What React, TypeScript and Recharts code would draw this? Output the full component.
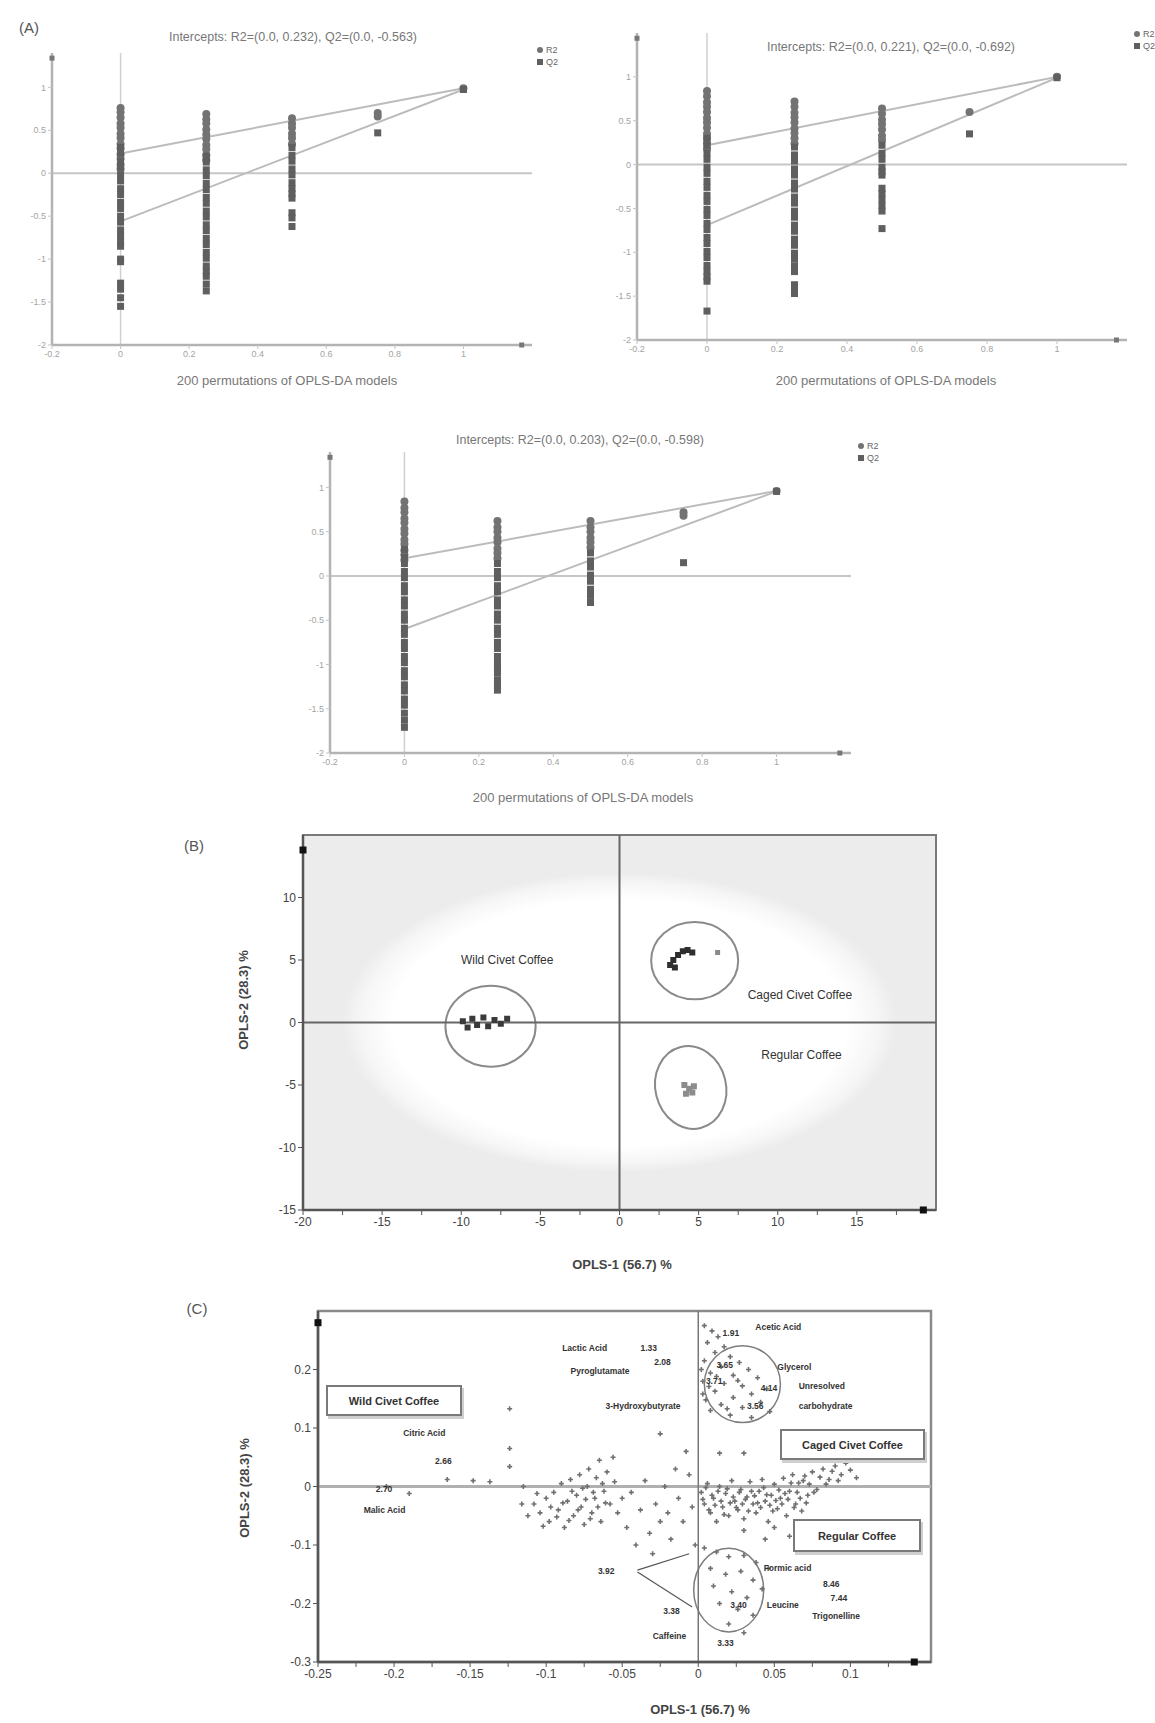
import React from "react";
import {
  ScatterChart,
  Scatter,
  XAxis,
  YAxis,
  ReferenceLine,
  ReferenceArea,
  ReferenceDot,
} from "recharts";

// ---------- (A) permutation tests ----------
// x positions of the permutation columns (correlation permuted vs original Y)
const permX = [0, 0.25, 0.5, 0.75, 1];
const permTicksX = [-0.2, 0, 0.2, 0.4, 0.6, 0.8, 1];
const permTicksY = [-2, -1.5, -1, -0.5, 0, 0.5, 1];

// one inner array per permX column
const a1R2 = [
  [0.76, 0.71, 0.65, 0.58, 0.53, 0.46, 0.41, 0.34, 0.29, 0.22, 0.17, 0.1, 0.05],
  [0.69, 0.63, 0.58, 0.51, 0.45, 0.4, 0.33, 0.28, 0.21, 0.15],
  [0.64, 0.58, 0.53, 0.46, 0.41, 0.34],
  [0.7, 0.66],
  [0.99],
];
const a1Q2 = [
  [0.3, 0.23, 0.14, 0.07, -0.02, -0.09, -0.18, -0.25, -0.34, -0.41, -0.5, -0.57, -0.66, -0.73, -0.8, -0.85, -1.0, -1.03, -1.28, -1.35, -1.45, -1.55],
  [0.2, 0.13, 0.04, -0.03, -0.12, -0.19, -0.28, -0.35, -0.44, -0.51, -0.6, -0.67, -0.76, -0.83, -0.92, -0.99, -1.08, -1.14, -1.2, -1.29, -1.37],
  [0.3, 0.21, 0.14, 0.05, -0.02, -0.11, -0.18, -0.24, -0.29, -0.46, -0.52, -0.62],
  [0.47],
  [0.975],
];
const a1R2Line = [0.23, 0.99];
const a1Q2Line = [-0.56, 0.975];

const a2R2 = [
  [0.84, 0.78, 0.71, 0.66, 0.6, 0.53, 0.48, 0.42, 0.35, 0.3, 0.24, 0.18],
  [0.72, 0.66, 0.59, 0.54, 0.48, 0.41, 0.36, 0.3, 0.24],
  [0.64, 0.58, 0.51, 0.46, 0.4, 0.33, 0.28],
  [0.6],
  [1.0],
];
const a2Q2 = [
  [0.3, 0.22, 0.13, 0.06, -0.03, -0.1, -0.19, -0.26, -0.35, -0.42, -0.51, -0.58, -0.67, -0.74, -0.83, -0.9, -0.99, -1.06, -1.15, -1.22, -1.28, -1.33, -1.67],
  [0.2, 0.11, 0.04, -0.05, -0.12, -0.21, -0.28, -0.37, -0.44, -0.53, -0.6, -0.69, -0.76, -0.85, -0.92, -1.01, -1.08, -1.16, -1.22, -1.37, -1.42, -1.47],
  [0.22, 0.13, 0.06, -0.03, -0.08, -0.12, -0.27, -0.33, -0.4, -0.47, -0.53, -0.73],
  [0.35],
  [0.99],
];
const a2R2Line = [0.22, 1.0];
const a2Q2Line = [-0.69, 0.99];

const a3R2 = [
  [0.84, 0.77, 0.72, 0.65, 0.6, 0.53, 0.48, 0.41, 0.36, 0.29, 0.24, 0.18],
  [0.62, 0.55, 0.5, 0.43, 0.38, 0.31, 0.26, 0.2],
  [0.62, 0.55, 0.5, 0.43, 0.38, 0.32],
  [0.72, 0.68],
  [0.96],
];
const a3Q2 = [
  [0.3, 0.21, 0.14, 0.05, -0.02, -0.11, -0.18, -0.27, -0.34, -0.43, -0.5, -0.59, -0.66, -0.75, -0.82, -0.91, -0.98, -1.07, -1.14, -1.23, -1.3, -1.39, -1.46, -1.55, -1.63, -1.71],
  [0.14, 0.05, -0.02, -0.11, -0.18, -0.27, -0.34, -0.43, -0.5, -0.59, -0.66, -0.75, -0.82, -0.91, -0.98, -1.04, -1.1, -1.18, -1.24, -1.29],
  [0.26, 0.17, 0.1, 0.01, -0.06, -0.15, -0.22, -0.3],
  [0.15],
  [0.955],
];
const a3R2Line = [0.2, 0.96];
const a3Q2Line = [-0.6, 0.955];

// ---------- (B) OPLS-DA scores ----------
const bTicksX = [-20, -17.5, -15, -12.5, -10, -7.5, -5, -2.5, 0, 2.5, 5, 7.5, 10, 12.5, 15, 17.5];
const bTicksY = [-15, -10, -5, 0, 5, 10];
const bWild = [
  [-9.9, 0.1], [-9.6, -0.4], [-9.3, 0.3], [-9.0, -0.2], [-8.6, 0.4],
  [-8.3, -0.3], [-7.9, 0.2], [-7.5, -0.1], [-7.1, 0.3],
];
const bCaged = [
  [3.2, 4.6], [3.4, 5.0], [3.7, 5.4], [4.0, 5.7], [4.3, 5.8], [4.6, 5.6], [3.5, 4.4],
];
const bCagedOut = [[6.2, 5.6]];
const bRegular = [[4.1, -5.0], [4.4, -5.3], [4.6, -5.6], [4.2, -5.7], [4.7, -5.1]];
// bounding boxes of the group ellipses [x1, x2, y1, y2]
const bGroupBounds = [
  [-11.0, -5.3, -3.6, 3.0],
  [2.0, 7.5, 1.8, 8.1],
  [2.1, 6.9, -8.6, -1.8],
];
const bT2Bounds = [-17.5, 17.5, -12, 12];
const bLabels = [
  { x: -7.1, y: 5.0, label: "Wild Civet Coffee" },
  { x: 11.4, y: 2.2, label: "Caged Civet Coffee" },
  { x: 11.5, y: -2.6, label: "Regular Coffee" },
];

// ---------- (C) loadings ----------
const cTicksX = [-0.25, -0.225, -0.2, -0.175, -0.15, -0.125, -0.1, -0.075, -0.05, -0.025, 0, 0.025, 0.05, 0.075, 0.1, 0.125];
const cTicksY = [-0.3, -0.2, -0.1, 0, 0.1, 0.2];
const cTopCluster = [
  [0.004, 0.275], [0.009, 0.266], [0.013, 0.256], [0.006, 0.246], [0.017, 0.239], [0.011, 0.229],
  [0.021, 0.222], [0.004, 0.215], [0.027, 0.212], [0.015, 0.205], [0.033, 0.2], [0.008, 0.194],
  [0.023, 0.19], [0.039, 0.186], [0.003, 0.18], [0.017, 0.176], [0.029, 0.172], [0.045, 0.167],
  [0.011, 0.163], [0.035, 0.158], [0.023, 0.152], [0.005, 0.148], [0.041, 0.144], [0.015, 0.14],
  [0.029, 0.135], [0.008, 0.13], [0.047, 0.128], [0.021, 0.122], [0.035, 0.118],
  [0.002, 0.2], [0.007, 0.171], [0.003, 0.158], [0.012, 0.188], [0.026, 0.181], [0.019, 0.133],
  [0.014, 0.057], [0.03, 0.057], [-0.025, 0.09],
];
const cBand = [
  [-0.116, -0.03], [-0.112, -0.05], [-0.108, -0.03], [-0.106, -0.012], [-0.104, -0.045], [-0.102, -0.068],
  [-0.1, -0.02], [-0.098, -0.06], [-0.097, -0.035], [-0.095, -0.01], [-0.093, -0.052], [-0.092, -0.04],
  [-0.09, 0.005], [-0.089, -0.028], [-0.088, -0.07], [-0.086, -0.025], [-0.085, -0.058], [-0.084, 0.012],
  [-0.083, -0.008], [-0.082, -0.05], [-0.08, -0.015], [-0.079, -0.04], [-0.078, 0.02], [-0.077, -0.035],
  [-0.076, -0.003], [-0.075, -0.065], [-0.074, -0.022], [-0.073, 0.0], [-0.072, 0.03], [-0.071, -0.055],
  [-0.07, -0.045], [-0.069, -0.01], [-0.068, -0.02], [-0.067, 0.015], [-0.066, -0.035], [-0.065, 0.045],
  [-0.064, -0.06], [-0.063, 0.005], [-0.062, -0.008], [-0.061, -0.028], [-0.06, 0.025], [-0.058, -0.03],
  [-0.056, 0.05], [-0.055, 0.008], [-0.053, -0.045],
  [-0.05, -0.02], [-0.047, -0.07], [-0.044, -0.01], [-0.041, -0.1], [-0.038, -0.04], [-0.035, 0.01],
  [-0.032, -0.08], [-0.03, -0.115], [-0.028, -0.03], [-0.025, -0.06], [-0.022, 0.0], [-0.02, -0.045],
  [-0.018, -0.09], [-0.015, 0.03], [-0.013, -0.02], [-0.01, -0.06], [-0.008, 0.06], [-0.006, 0.02],
  [-0.004, -0.035], [-0.002, -0.1],
  [0.002, -0.01], [0.003, -0.022], [0.004, -0.03], [0.005, -0.002], [0.006, 0.005], [0.007, -0.04],
  [0.008, -0.045], [0.009, -0.015], [0.01, -0.02], [0.011, -0.032], [0.012, -0.06], [0.013, -0.008],
  [0.014, 0.0], [0.015, -0.025], [0.016, -0.035], [0.017, -0.048], [0.018, -0.012], [0.019, -0.004],
  [0.02, -0.05], [0.021, -0.028], [0.022, 0.01], [0.023, -0.018], [0.024, -0.025], [0.025, -0.036],
  [0.026, -0.04], [0.027, -0.01], [0.028, -0.005], [0.029, -0.03], [0.03, -0.055], [0.031, -0.022],
  [0.032, -0.018], [0.033, -0.042], [0.034, 0.008], [0.035, -0.008], [0.036, -0.03], [0.037, -0.016],
  [0.038, -0.045], [0.039, -0.028], [0.04, -0.008], [0.041, -0.036], [0.042, 0.012], [0.043, -0.002],
  [0.044, -0.025], [0.045, -0.014], [0.046, -0.06], [0.047, -0.032], [0.048, -0.015], [0.049, -0.042],
  [0.05, 0.004], [0.051, -0.024], [0.052, -0.038], [0.053, -0.006], [0.054, -0.02], [0.055, -0.03],
  [0.056, 0.014], [0.057, -0.012], [0.058, -0.05], [0.059, -0.022], [0.06, -0.008], [0.061, 0.006],
  [0.062, 0.02], [0.063, -0.036], [0.064, -0.03], [0.065, -0.01], [0.066, 0.006], [0.067, -0.02],
  [0.068, -0.042], [0.069, 0.01], [0.07, 0.018], [0.071, -0.028], [0.072, -0.015], [0.073, 0.004],
  [0.075, 0.025], [0.076, -0.01], [0.078, -0.005], [0.08, 0.016], [0.082, 0.03], [0.084, 0.004],
  [0.086, 0.012], [0.088, 0.026], [0.09, 0.035], [0.092, 0.01], [0.094, 0.02], [0.097, 0.04],
  [0.1, 0.028], [0.104, 0.015], [0.03, -0.075], [0.05, -0.07], [0.044, -0.09], [0.06, -0.085],
];
const cBottomCluster = [
  [0.004, -0.105], [0.012, -0.112], [0.02, -0.12], [0.03, -0.118], [0.038, -0.13], [0.008, -0.14],
  [0.018, -0.15], [0.028, -0.145], [0.036, -0.16], [0.01, -0.17], [0.022, -0.18], [0.032, -0.19],
  [0.014, -0.2], [0.026, -0.21], [0.036, -0.22], [0.02, -0.235], [0.03, -0.25], [0.042, -0.175],
  [0.046, -0.14],
];
const cLeftOutliers = [
  [-0.19, -0.012], [-0.165, 0.012], [-0.148, 0.01], [-0.137, 0.008], [-0.124, 0.133],
  [-0.124, 0.065], [-0.124, 0.034], [-0.115, 0.0], [-0.205, 0.0],
];
const cGroupBounds = [
  [0.004, 0.054, 0.108, 0.242],
  [-0.003, 0.043, -0.25, -0.104],
];
const cLabels = [
  { x: 0.0375, y: 0.273, label: "Acetic Acid" },
  { x: 0.016, y: 0.262, label: "1.91" },
  { x: -0.0895, y: 0.236, label: "Lactic Acid" },
  { x: -0.038, y: 0.236, label: "1.33" },
  { x: -0.029, y: 0.212, label: "2.08" },
  { x: -0.084, y: 0.198, label: "Pyroglutamate" },
  { x: -0.061, y: 0.138, label: "3-Hydroxybutyrate" },
  { x: 0.052, y: 0.205, label: "Glycerol" },
  { x: 0.066, y: 0.171, label: "Unresolved" },
  { x: 0.066, y: 0.138, label: "carbohydrate" },
  { x: 0.012, y: 0.207, label: "3.65" },
  { x: 0.005, y: 0.181, label: "3.71" },
  { x: 0.041, y: 0.168, label: "4.14" },
  { x: 0.032, y: 0.138, label: "3.56" },
  { x: -0.194, y: 0.091, label: "Citric Acid" },
  { x: -0.173, y: 0.043, label: "2.66" },
  { x: -0.212, y: -0.004, label: "2.70" },
  { x: -0.22, y: -0.041, label: "Malic Acid" },
  { x: -0.066, y: -0.144, label: "3.92" },
  { x: 0.043, y: -0.14, label: "Formic acid" },
  { x: 0.082, y: -0.166, label: "8.46" },
  { x: 0.087, y: -0.191, label: "7.44" },
  { x: 0.021, y: -0.203, label: "3.40" },
  { x: 0.045, y: -0.203, label: "Leucine" },
  { x: 0.075, y: -0.222, label: "Trigonelline" },
  { x: -0.023, y: -0.212, label: "3.38" },
  { x: -0.03, y: -0.256, label: "Caffeine" },
  { x: 0.0125, y: -0.268, label: "3.33" },
];
// leader lines from "3.92" to its peaks
const cLeaders = [
  [[-0.04, -0.143], [-0.006, -0.115]],
  [[-0.04, -0.146], [-0.004, -0.206]],
];

const FONT = "'Liberation Sans', Arial, sans-serif";

const toPoints = (cols: number[][]) =>
  cols.flatMap((ys, i) => ys.map((y) => ({ x: permX[i], y })));
const pairs = (arr: number[][]) => arr.map(([x, y]) => ({ x, y }));

const r2Shape = (p: any) => <circle cx={p.cx} cy={p.cy} r={4} fill="#737373" />;
const q2Shape = (p: any) => (
  <rect x={p.cx - 3.5} y={p.cy - 3.5} width={7} height={7} fill="#5f5f5f" />
);
const sq = (size: number, color: string) => (p: any) => (
  <rect x={p.cx - size / 2} y={p.cy - size / 2} width={size} height={size} fill={color} />
);
const cross = (p: any) => (
  <path
    d={`M${p.cx - 2.5},${p.cy} h5 M${p.cx},${p.cy - 2.5} v5`}
    stroke="#707070"
    strokeWidth={1.6}
  />
);
const textShape = (size: number, anchor: string, color: string, weight = 400) => (p: any) => (
  <text
    x={p.cx}
    y={p.cy}
    fontSize={size}
    textAnchor={anchor}
    dominantBaseline="central"
    fill={color}
    fontWeight={weight}
    fontFamily={FONT}
  >
    {p.payload.label}
  </text>
);
const ellipseShape = (tilt: number, color: string, sw: number) => (p: any) => {
  const w = Math.abs(p.width);
  const h = Math.abs(p.height);
  const cx = p.x + p.width / 2;
  const cy = p.y + p.height / 2;
  const k = tilt ? 0.93 : 1;
  return (
    <ellipse
      cx={cx}
      cy={cy}
      rx={(w / 2) * k}
      ry={(h / 2) * 0.98}
      fill="none"
      stroke={color}
      strokeWidth={sw}
      transform={`rotate(${tilt} ${cx} ${cy})`}
    />
  );
};
const t2Shape = (p: any) => {
  const cx = p.x + p.width / 2;
  const cy = p.y + p.height / 2;
  return (
    <g>
      <defs>
        <radialGradient id="t2fade" cx="50%" cy="50%" r="50%">
          <stop offset="0.82" stopColor="#ffffff" />
          <stop offset="0.93" stopColor="#f6f6f6" />
          <stop offset="1" stopColor="#ececec" />
        </radialGradient>
      </defs>
      <ellipse cx={cx} cy={cy} rx={Math.abs(p.width) / 2} ry={Math.abs(p.height) / 2} fill="url(#t2fade)" />
    </g>
  );
};

function Txt({ x, y, size, children, color = "#555", weight = 400, rotate = 0 }: any) {
  return (
    <div
      style={{
        position: "absolute",
        left: x,
        top: y,
        transform: `translate(-50%, -50%) rotate(${rotate}deg)`,
        whiteSpace: "nowrap",
        fontSize: size,
        color,
        fontWeight: weight,
        fontFamily: FONT,
        lineHeight: 1,
      }}
    >
      {children}
    </div>
  );
}

function PermLegend({ x, y }: { x: number; y: number }) {
  const item = (top: number, round: boolean, text: string) => (
    <div style={{ position: "absolute", left: x, top: top - 5, display: "flex", alignItems: "center", gap: 3 }}>
      <span
        style={{
          width: 6,
          height: 6,
          background: round ? "#737373" : "#5f5f5f",
          borderRadius: round ? 3 : 0,
          display: "inline-block",
        }}
      />
      <span style={{ fontSize: 9, color: "#666", fontFamily: FONT, lineHeight: "10px" }}>{text}</span>
    </div>
  );
  return (
    <>
      {item(y, true, "R2")}
      {item(y + 12, false, "Q2")}
    </>
  );
}

function PermPanel(props: any) {
  const { left, top, width, height, axisW, mTop, mRight, axisH, yMax, r2, q2, r2Line, q2Line } = props;
  const axisStyle = { stroke: "#b3b3b3", strokeWidth: 2.5 };
  return (
    <div style={{ position: "absolute", left, top }}>
      <ScatterChart width={width} height={height} margin={{ top: mTop, right: mRight, left: 0, bottom: 0 }}>
        <XAxis
          type="number"
          dataKey="x"
          domain={[-0.2, 1.2]}
          ticks={permTicksX}
          interval={0}
          height={axisH}
          axisLine={axisStyle}
          tickLine={{ stroke: "#c4c4c4" }}
          tickSize={4}
          tick={{ fill: "#a3a3a3", fontSize: 9, fontFamily: FONT }}
        />
        <YAxis
          type="number"
          dataKey="y"
          domain={[-2, yMax]}
          ticks={permTicksY}
          interval={0}
          width={axisW}
          axisLine={axisStyle}
          tickLine={{ stroke: "#c4c4c4" }}
          tickSize={4}
          tick={{ fill: "#a3a3a3", fontSize: 9, fontFamily: FONT }}
        />
        <ReferenceLine x={0} stroke="#d0d0d0" strokeWidth={1.5} />
        <ReferenceLine y={0} stroke="#c6c6c6" strokeWidth={2} />
        <ReferenceLine segment={[{ x: 0, y: r2Line[0] }, { x: 1, y: r2Line[1] }]} stroke="#bcbcbc" strokeWidth={2} />
        <ReferenceLine segment={[{ x: 0, y: q2Line[0] }, { x: 1, y: q2Line[1] }]} stroke="#bcbcbc" strokeWidth={2} />
        <ReferenceDot x={-0.2} y={yMax - 0.06} r={3} shape={sq(5, "#777")} />
        <ReferenceDot x={1.17} y={-2} r={3} shape={sq(5, "#777")} />
        <Scatter data={toPoints(r2)} shape={r2Shape} isAnimationActive={false} />
        <Scatter data={toPoints(q2)} shape={q2Shape} isAnimationActive={false} />
      </ScatterChart>
    </div>
  );
}

const fmt05 = (v: number) => (Math.abs(v * 20 - Math.round(v * 20)) < 1e-6 ? String(v) : "");
const fmt5 = (v: number) => (v % 5 === 0 ? String(v) : "");

export default function App() {
  const darkAxis = { stroke: "#555", strokeWidth: 2.5 };
  const tickStyle = { fill: "#444", fontSize: 12, fontFamily: FONT };
  return (
    <div style={{ position: "absolute", left: 0, top: 0, width: 1155, height: 1723, background: "#fff", fontFamily: FONT }}>
      {/* ---------- (A) ---------- */}
      <Txt x={29} y={27} size={15} color="#555">(A)</Txt>

      <PermPanel left={0} top={0} width={560} height={400} axisW={52} mTop={53} mRight={28} axisH={55} yMax={1.4}
        r2={a1R2} q2={a1Q2} r2Line={a1R2Line} q2Line={a1Q2Line} />
      <Txt x={293} y={37} size={12.5} color="#777">Intercepts: R2=(0.0, 0.232), Q2=(0.0, -0.563)</Txt>
      <Txt x={287} y={380} size={13} color="#777">200 permutations of OPLS-DA models</Txt>
      <PermLegend x={537} y={50} />

      <PermPanel left={580} top={0} width={575} height={400} axisW={57} mTop={33} mRight={28} axisH={60} yMax={1.5}
        r2={a2R2} q2={a2Q2} r2Line={a2R2Line} q2Line={a2Q2Line} />
      <Txt x={891} y={47} size={12.5} color="#777">Intercepts: R2=(0.0, 0.221), Q2=(0.0, -0.692)</Txt>
      <Txt x={886} y={380} size={13} color="#777">200 permutations of OPLS-DA models</Txt>
      <PermLegend x={1134} y={34} />

      <PermPanel left={270} top={420} width={620} height={390} axisW={60} mTop={32} mRight={39} axisH={57} yMax={1.4}
        r2={a3R2} q2={a3Q2} r2Line={a3R2Line} q2Line={a3Q2Line} />
      <Txt x={580} y={440} size={12.5} color="#777">Intercepts: R2=(0.0, 0.203), Q2=(0.0, -0.598)</Txt>
      <Txt x={583} y={797} size={13} color="#777">200 permutations of OPLS-DA models</Txt>
      <PermLegend x={858} y={446} />

      {/* ---------- (B) ---------- */}
      <Txt x={194} y={845} size={15} color="#555">(B)</Txt>
      <div style={{ position: "absolute", left: 200, top: 820 }}>
        <ScatterChart width={760} height={470} margin={{ top: 15, right: 24, left: 0, bottom: 0 }}>
          <XAxis type="number" dataKey="x" domain={[-20, 20]} ticks={bTicksX} interval={0} tickFormatter={fmt5}
            height={80} axisLine={darkAxis} tickLine={{ stroke: "#555" }} tickSize={5} tick={tickStyle} />
          <YAxis type="number" dataKey="y" domain={[-15, 15]} ticks={bTicksY} interval={0}
            width={103} axisLine={darkAxis} tickLine={{ stroke: "#555" }} tickSize={5} tick={tickStyle} />
          <ReferenceArea x1={-20} x2={20} y1={-15} y2={15} fill="#ececec" fillOpacity={1} stroke="#7a7a7a" strokeWidth={2} />
          <ReferenceArea x1={bT2Bounds[0]} x2={bT2Bounds[1]} y1={bT2Bounds[2]} y2={bT2Bounds[3]} shape={t2Shape} />
          <ReferenceLine x={0} stroke="#666" strokeWidth={2} />
          <ReferenceLine y={0} stroke="#666" strokeWidth={2} />
          {bGroupBounds.map((b, i) => (
            <ReferenceArea key={i} x1={b[0]} x2={b[1]} y1={b[2]} y2={b[3]}
              shape={ellipseShape(i === 2 ? -14 : 0, "#8a8a8a", 2)} />
          ))}
          <ReferenceDot x={-20} y={13.8} r={3} shape={sq(7, "#111")} />
          <ReferenceDot x={19.2} y={-15} r={3} shape={sq(7, "#111")} />
          <Scatter data={pairs(bWild)} shape={sq(6, "#3a3a3a")} isAnimationActive={false} />
          <Scatter data={pairs(bCaged)} shape={sq(6, "#2e2e2e")} isAnimationActive={false} />
          <Scatter data={pairs(bCagedOut)} shape={sq(5, "#8a8a8a")} isAnimationActive={false} />
          <Scatter data={pairs(bRegular)} shape={sq(6, "#8c8c8c")} isAnimationActive={false} />
          <Scatter data={bLabels} shape={textShape(12, "middle", "#333")} isAnimationActive={false} />
        </ScatterChart>
      </div>
      <Txt x={243} y={1000} size={13} color="#444" weight={700} rotate={-90}>OPLS-2 (28.3) %</Txt>
      <Txt x={622} y={1264} size={13} color="#444" weight={700}>OPLS-1 (56.7) %</Txt>

      {/* ---------- (C) ---------- */}
      <Txt x={197} y={1308} size={15} color="#555">(C)</Txt>
      <div style={{ position: "absolute", left: 200, top: 1290 }}>
        <ScatterChart width={760} height={433} margin={{ top: 21, right: 29, left: 0, bottom: 0 }}>
          <XAxis type="number" dataKey="x" domain={[-0.25, 0.153]} ticks={cTicksX} interval={0} tickFormatter={fmt05}
            height={61} axisLine={darkAxis} tickLine={{ stroke: "#555" }} tickSize={5} tick={tickStyle} />
          <YAxis type="number" dataKey="y" domain={[-0.3, 0.3]} ticks={cTicksY} interval={0}
            width={118} axisLine={darkAxis} tickLine={{ stroke: "#555" }} tickSize={5} tick={tickStyle} />
          <ReferenceArea x1={-0.25} x2={0.153} y1={-0.3} y2={0.3} fill="none" stroke="#8a8a8a" strokeWidth={2.5} />
          <ReferenceLine y={0} stroke="#b0b0b0" strokeWidth={3} />
          <ReferenceLine x={0} stroke="#777" strokeWidth={1.5} />
          {cGroupBounds.map((b, i) => (
            <ReferenceArea key={i} x1={b[0]} x2={b[1]} y1={b[2]} y2={b[3]} shape={ellipseShape(0, "#7d7d7d", 1.5)} />
          ))}
          {cLeaders.map((s, i) => (
            <ReferenceLine key={i} segment={[{ x: s[0][0], y: s[0][1] }, { x: s[1][0], y: s[1][1] }]} stroke="#555" strokeWidth={1.2} />
          ))}
          <ReferenceDot x={-0.25} y={0.28} r={3} shape={sq(7, "#111")} />
          <ReferenceDot x={0.142} y={-0.3} r={3} shape={sq(7, "#111")} />
          <Scatter data={pairs(cBand)} shape={cross} isAnimationActive={false} />
          <Scatter data={pairs(cTopCluster)} shape={cross} isAnimationActive={false} />
          <Scatter data={pairs(cBottomCluster)} shape={cross} isAnimationActive={false} />
          <Scatter data={pairs(cLeftOutliers)} shape={cross} isAnimationActive={false} />
          <Scatter data={cLabels} shape={textShape(8.5, "start", "#333", 700)} isAnimationActive={false} />
        </ScatterChart>
      </div>
      <Txt x={244} y={1488} size={13} color="#444" weight={700} rotate={-90}>OPLS-2 (28.3) %</Txt>
      <Txt x={700} y={1709} size={13} color="#444" weight={700}>OPLS-1 (56.7) %</Txt>

      {[
        { l: 326, t: 1385, w: 136, h: 31, text: "Wild Civet Coffee" },
        { l: 780, t: 1429, w: 145, h: 31, text: "Caged Civet Coffee" },
        { l: 793, t: 1519, w: 128, h: 33, text: "Regular Coffee" },
      ].map((b) => (
        <div
          key={b.text}
          style={{
            position: "absolute",
            left: b.l,
            top: b.t,
            width: b.w,
            height: b.h,
            boxSizing: "border-box",
            border: "2px solid #7a7a7a",
            boxShadow: "2px 3px 0 #cfcfcf",
            background: "#fff",
            display: "flex",
            alignItems: "center",
            justifyContent: "center",
            fontSize: 11,
            color: "#333",
            fontFamily: FONT,
            fontWeight: 700,
          }}
        >
          {b.text}
        </div>
      ))}
    </div>
  );
}
